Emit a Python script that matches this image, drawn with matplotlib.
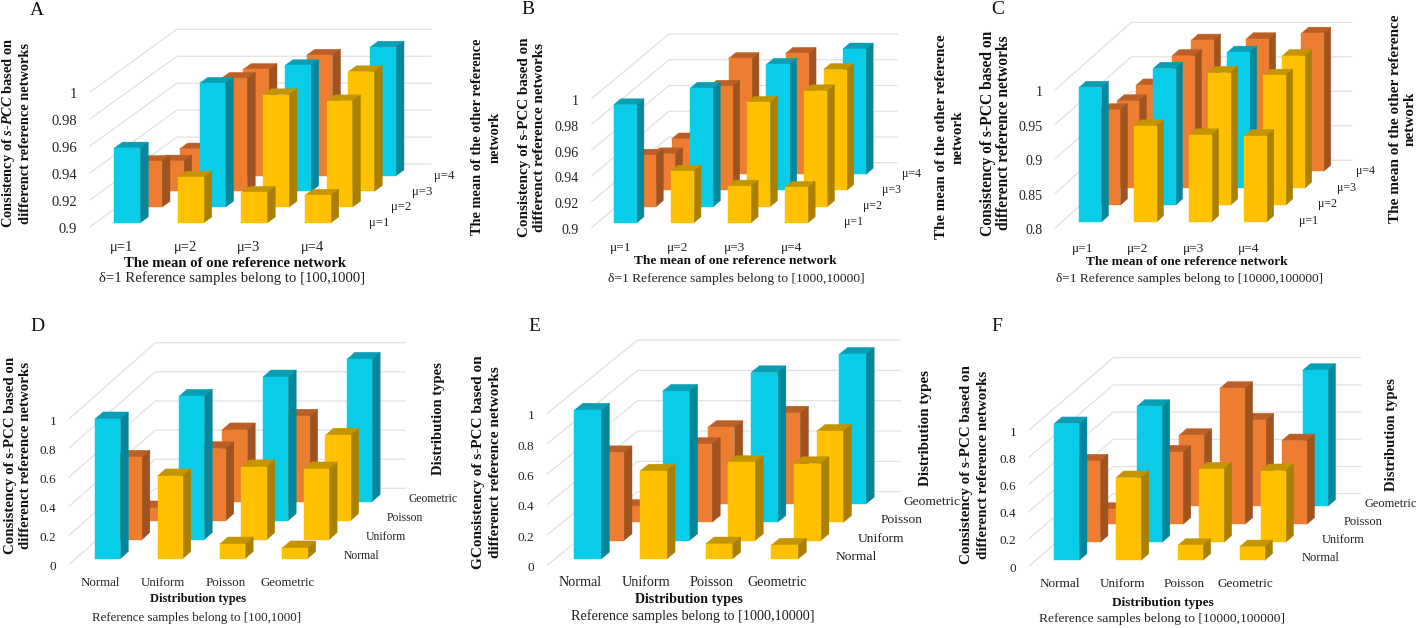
import matplotlib
matplotlib.use('Agg')
import matplotlib.pyplot as plt
from matplotlib.patches import Polygon

# Consistency matrices, rows go front to back
values_a = [[0.9556, 0.934, 0.9227, 0.9205],
            [0.934, 0.992, 0.9835, 0.979],
            [0.9227, 0.984, 0.9935, 0.989],
            [0.920, 0.979, 0.9896, 0.9956]]
values_b = [[0.9917, 0.940, 0.9285, 0.9275],
            [0.940, 0.992, 0.981, 0.990],
            [0.9285, 0.981, 0.998, 0.994],
            [0.9275, 0.990, 0.994, 0.9974]]
values_c = [[0.995, 0.939, 0.926, 0.925],
            [0.938, 0.998, 0.992, 0.988],
            [0.9266, 0.992, 0.997, 0.992],
            [0.925, 0.990, 0.992, 1.0]]
values_d = [[0.959, 0.5675, 0.10, 0.073],
            [0.565, 0.984, 0.499, 0.485],
            [0.087, 0.494, 0.986, 0.586],
            [0.07, 0.492, 0.586, 0.977]]
values_e = [[0.982, 0.58, 0.10, 0.092],
            [0.58, 0.985, 0.516, 0.508],
            [0.105, 0.514, 0.987, 0.60],
            [0.09, 0.505, 0.60, 0.987]]
values_f = [[1.005, 0.608, 0.11, 0.10],
            [0.598, 1.0, 0.539, 0.527],
            [0.11, 0.532, 1.0, 0.615],
            [0.10, 0.522, 0.635, 1.0]]

mu_labels = ['μ=1', 'μ=2', 'μ=3', 'μ=4']
dist_labels = ['Normal', 'Uniform', 'Poisson', 'Geometric']
ticks_a = [0.9, 0.92, 0.94, 0.96, 0.98, 1]
ticks_c = [0.8, 0.85, 0.9, 0.95, 1]
ticks_d = [0, 0.2, 0.4, 0.6, 0.8, 1]

TITLE_PLAIN = 'Consistency of s-PCC based on'
TITLE_ITALIC = r'Consistency of $\mathit{s}$-$\mathit{PCC}$ based on'
TITLE_G = 'GConsistency of s-PCC based on'
TITLE_2 = 'differenct reference networks'
MEAN_ONE = 'The mean of one reference network'
MEAN_OTHER = 'The mean of the other reference'

W, H = 1416, 628
CYAN = ('#09CCE8', '#04879A', '#0A9EB5')
ORANGE = ('#ED7D31', '#9E5320', '#BC5F26')
YELLOW = ('#FFC000', '#AA8000', '#C49500')
GRID = '#DEDEDE'
BAR_W = 0.405
BAR_D = 0.37

plt.rcParams['font.family'] = ['Liberation Serif', 'DejaVu Serif']
plt.rcParams['mathtext.fontset'] = 'custom'
plt.rcParams['mathtext.it'] = 'Liberation Serif:italic:bold'
plt.rcParams['mathtext.rm'] = 'Liberation Serif:bold'

# geometry in pixels: wall corner front (cx, cy), back corner (bx, by), right end of
# the back wall (rx), top gridline y (ty). depth = bar offset inside a row
# fs = font sizes for ticks, front labels, depth labels, x title, sub title, left title, right title
panels = [
    dict(letter='A', letter_xy=(37, 10.5), values=values_a, ticks=ticks_a, cats=mu_labels,
         cx=90, cy=226.7, bx=177, by=164, rx=431, ty=29.3, depth=0.25, offset=0.30,
         fs=(10.5, 10.5, 9.2, 10.6, 10.6, 10.4, 10.4),
         cat_dy=21, dep_dy=4, orange=[], left=[TITLE_ITALIC, TITLE_2], left_x=(8.8, 25.8), left_y=133,
         right=[MEAN_OTHER, 'network'], right_x=(477.5, 495.5), right_y=137,
         xtitle=MEAN_ONE, xtitle_xy=(235, 263), sub='δ=1 Reference samples belong to [100,1000]', sub_xy=(232, 278)),
    dict(letter='B', letter_xy=(528, 9.5), values=values_b, ticks=ticks_a, cats=mu_labels,
         cx=591.7, cy=227.3, bx=669, by=162.7, rx=897.3, ty=34, depth=0.28, offset=0.29,
         fs=(10, 9.5, 8.6, 9.6, 9.7, 10.9, 10.8),
         cat_dy=21, dep_dy=3, orange=[], left=[TITLE_PLAIN, TITLE_2], left_x=(524.2, 539.2), left_y=137,
         right=[MEAN_OTHER, 'network'], right_x=(941.5, 958.5), right_y=137,
         xtitle=MEAN_ONE, xtitle_xy=(735, 261), sub='δ=1 Reference samples belong to [1000,10000]', sub_xy=(736, 279)),
    dict(letter='C', letter_xy=(998, 9.5), values=values_c, ticks=ticks_c, cats=mu_labels,
         cx=1055.3, cy=227.7, bx=1131.3, by=160.3, rx=1351.7, ty=22.3, depth=0.34, offset=0.315,
         fs=(10, 9.5, 8.6, 9.5, 9.6, 11.2, 11),
         cat_dy=21, dep_dy=2, orange=[(3, 3)], left=[TITLE_PLAIN, TITLE_2], left_x=(987.5, 1004.2), left_y=133,
         right=[MEAN_OTHER, 'network'], right_x=(1395.5, 1410.5), right_y=119,
         xtitle=MEAN_ONE, xtitle_xy=(1187, 262), sub='δ=1 Reference samples belong to [10000,100000]', sub_xy=(1189, 279)),
    dict(letter='D', letter_xy=(37, 326.5), values=values_d, ticks=ticks_d, cats=dist_labels,
         cx=69.3, cy=564.3, bx=155.3, by=488.3, rx=405, ty=342.7, depth=0.30, offset=0.31,
         fs=(9.5, 9.3, 8.4, 9.0, 9.3, 10.7, 10.5),
         cat_dy=18.4, dep_dy=1, orange=[], left=[TITLE_PLAIN, TITLE_2], left_x=(10.5, 25.5), left_y=455,
         right=['Distribution types'], right_x=(438.2,), right_y=419,
         xtitle='Distribution types', xtitle_xy=(198, 599), sub='Reference samples belong to [100,1000]', sub_xy=(197, 618)),
    dict(letter='E', letter_xy=(534, 326.5), values=values_e, ticks=ticks_d, cats=dist_labels,
         cx=547.3, cy=565, bx=637.7, by=491.7, rx=900.3, ty=340, depth=0.33, offset=0.30,
         fs=(9.5, 10.2, 9.7, 10.1, 10.3, 11, 10.9),
         cat_dy=17.7, dep_dy=1, orange=[], left=[TITLE_G, TITLE_2], left_x=(478.2, 495.5), left_y=462,
         right=['Distribution types'], right_x=(925.8,), right_y=428,
         xtitle='Distribution types', xtitle_xy=(689, 600), sub='Reference samples belong to [1000,10000]', sub_xy=(693, 616)),
    dict(letter='F', letter_xy=(997, 326.5), values=values_f, ticks=ticks_d, cats=dist_labels,
         cx=1029.3, cy=565.7, bx=1113.3, by=493.7, rx=1360.7, ty=357.7, depth=0.30, offset=0.30,
         fs=(9.5, 9.5, 8.9, 9.5, 9.7, 10.8, 10.5),
         cat_dy=18, dep_dy=1, orange=[(2, 2), (2, 3)], left=[TITLE_PLAIN, TITLE_2], left_x=(966.5, 983.2), left_y=465,
         right=['Distribution types'], right_x=(1391.5,), right_y=435,
         xtitle='Distribution types', xtitle_xy=(1163, 603), sub='Reference samples belong to [10000,100000]', sub_xy=(1162, 619)),
]


def fig_text(fig, xy, s, **kw):
    fig.text(xy[0] / W, 1 - xy[1] / H, s, ha='center', va='center', **kw)


def draw_panel(fig, p):
    ticks = p['ticks']
    vmin, vmax = ticks[0], ticks[-1]
    fs_tick, fs_cat, fs_dep, fs_xt, fs_sub, fs_left, fs_right = p['fs']
    col_px = (p['rx'] - p['bx']) / 4
    unit_px = (p['by'] - p['ty']) / (vmax - vmin)
    # oblique projection: one row back shifts the point right and up in data units
    sx = (p['bx'] - p['cx']) / 4 / col_px
    sy = (p['cy'] - p['by']) / 4 / unit_px

    ax = fig.add_axes([p['cx'] / W, 1 - p['cy'] / H, (p['rx'] - p['cx']) / W, (p['cy'] - p['ty']) / H])
    ax.set_xlim(0, 4 + 4 * sx)
    ax.set_ylim(vmin, vmax + 4 * sy)
    ax.axis('off')

    def proj(col, row, val):
        return col + row * sx, val + row * sy

    for t in ticks:
        x0, y0 = proj(0, 0, t)
        x1, y1 = proj(0, 4, t)
        x2, y2 = proj(4, 4, t)
        ax.plot([x0, x1, x2], [y0, y1, y2], color=GRID, lw=0.8, clip_on=False, zorder=1)
        ax.annotate(f'{t:g}', (x0, y0), xytext=(-13, -3), textcoords='offset pixels',
                    ha='right', va='center', fontsize=fs_tick, color='#222222', annotation_clip=False)

    values = p['values']
    z = 2
    for r in range(3, -1, -1):
        for c in range(4):
            if (r, c) in p['orange']:
                colors = ORANGE
            elif r == c:
                colors = CYAN
            elif c > r:
                colors = YELLOW
            else:
                colors = ORANGE
            v = values[r][c]
            x0 = c + p['offset']
            x1 = x0 + BAR_W
            d0 = r + p['depth']
            d1 = d0 + BAR_D
            faces = [
                ([(x0, d0, v), (x1, d0, v), (x1, d1, v), (x0, d1, v)], colors[2]),
                ([(x1, d0, vmin), (x1, d1, vmin), (x1, d1, v), (x1, d0, v)], colors[1]),
                ([(x0, d0, vmin), (x1, d0, vmin), (x1, d0, v), (x0, d0, v)], colors[0]),
            ]
            for pts, col in faces:
                ax.add_patch(Polygon([proj(*q) for q in pts], closed=True, facecolor=col,
                                     edgecolor=col, lw=0.3, zorder=z, clip_on=False))
            z += 1

    for i, lab in enumerate(p['cats']):
        ax.annotate(lab, proj(i + 0.5, 0, vmin), xytext=(0, -p['cat_dy']), textcoords='offset pixels',
                    ha='center', va='center', fontsize=fs_cat, color='#222222', annotation_clip=False)
        ax.annotate(lab, proj(4, i + 0.5, vmin), xytext=(14, -p['dep_dy']), textcoords='offset pixels',
                    ha='left', va='center', fontsize=fs_dep, color='#222222', annotation_clip=False)

    fig_text(fig, p['letter_xy'], p['letter'], fontsize=14, color='#111111')
    for s, x in zip(p['left'], p['left_x']):
        fig_text(fig, (x, p['left_y']), s, rotation=90, fontsize=fs_left, fontweight='bold', color='#111111')
    for s, x in zip(p['right'], p['right_x']):
        fig_text(fig, (x, p['right_y']), s, rotation=90, fontsize=fs_right, fontweight='bold', color='#111111')
    fig_text(fig, p['xtitle_xy'], p['xtitle'], fontsize=fs_xt, fontweight='bold', color='#111111')
    fig_text(fig, p['sub_xy'], p['sub'], fontsize=fs_sub, color='#222222')


fig = plt.figure(figsize=(W / 100, H / 100), dpi=100)
for p in panels:
    draw_panel(fig, p)
fig.savefig('out.png', dpi=100)
